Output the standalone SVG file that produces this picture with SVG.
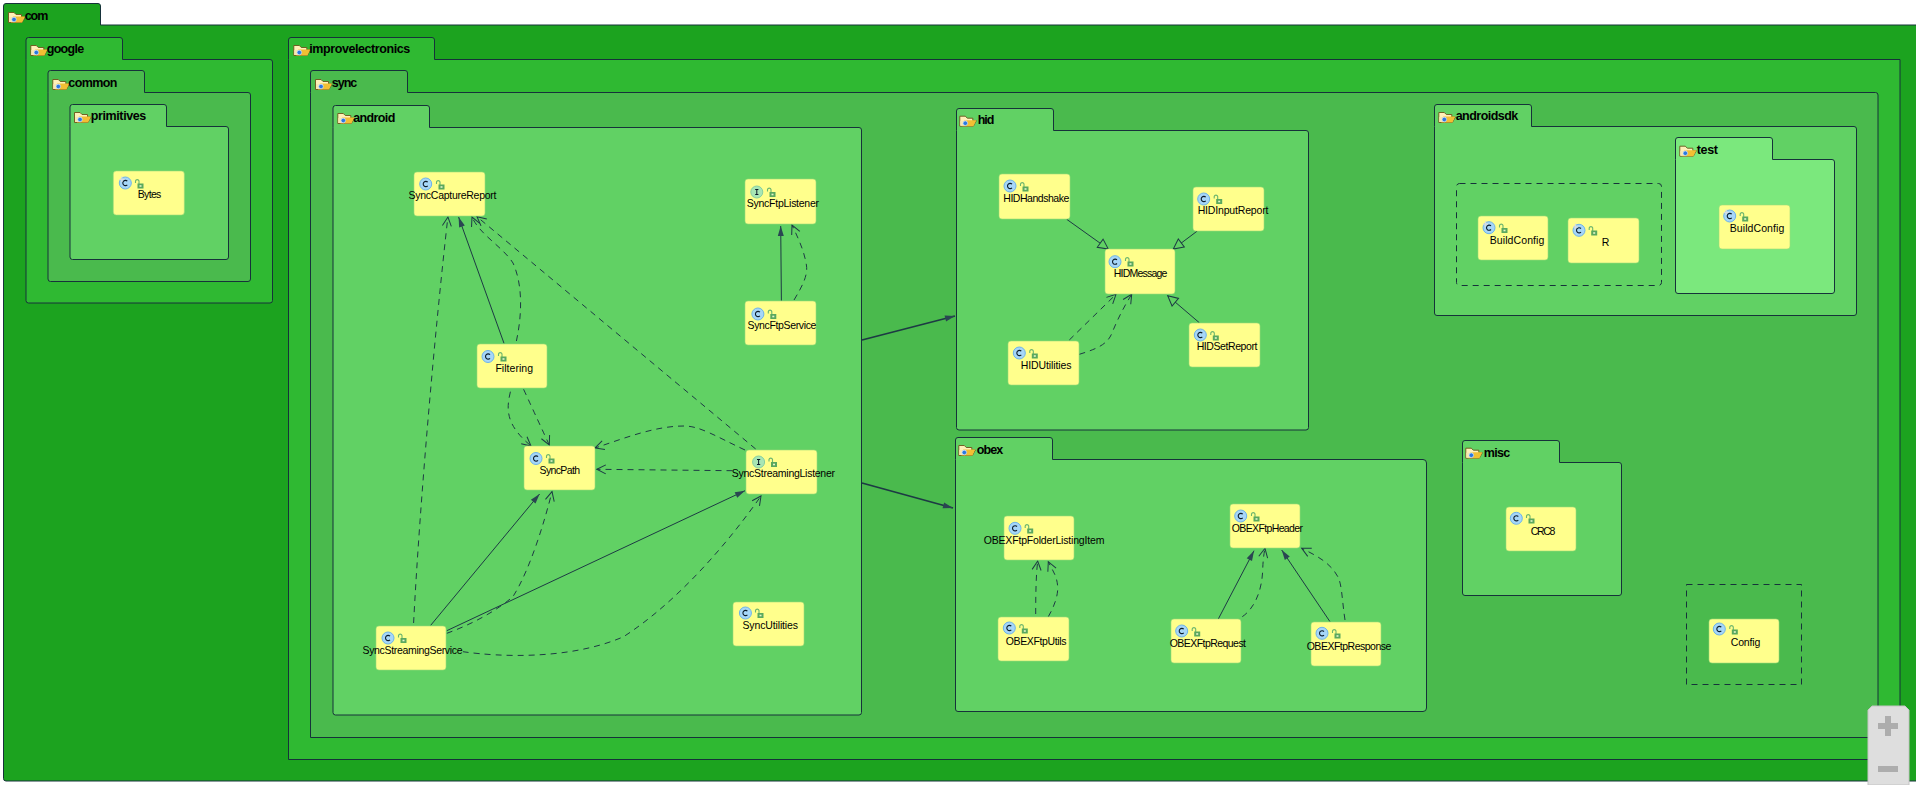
<svg xmlns="http://www.w3.org/2000/svg" width="1916" height="785" viewBox="0 0 1916 785">
<style>
.pk{stroke:#16323a;stroke-width:1}
.l0{fill:#1ca31f}.l1{fill:#2fb932}.l2{fill:#4aba4d}.l3{fill:#61d164}.l4{fill:#7be87d}
.pn{font:bold 12.500px "Liberation Sans",Arial,sans-serif;fill:#000}
.nm{font:10.500px "Liberation Sans",Arial,sans-serif;fill:#000}
.box{fill:#ffff8c;stroke:#9edc78;stroke-width:.6}
.dash{fill:none;stroke:#16323a;stroke-dasharray:6 5}
.e{fill:none;stroke:#1d3a44;stroke-width:1}
.d{stroke-dasharray:6 5;marker-end:url(#open)}
.s{marker-end:url(#solid)}
.t{marker-end:url(#tri)}
.b{stroke-width:1.800;marker-end:url(#solid)}
</style>
<defs>
<marker id="open" markerUnits="userSpaceOnUse" markerWidth="14" markerHeight="14" refX="11" refY="7" orient="auto"><path d="M2 2.500L11 7L2 11.500" fill="none" stroke="#1d3a44"/></marker>
<marker id="solid" markerUnits="userSpaceOnUse" markerWidth="14" markerHeight="14" refX="11" refY="7" orient="auto"><path d="M1 4L11 7L1 10Z" fill="#2a4652"/></marker>
<marker id="tri" markerUnits="userSpaceOnUse" markerWidth="16" markerHeight="16" refX="13" refY="8" orient="auto"><path d="M3 3L13 8L3 13Z" fill="#61d164" stroke="#1d3a44"/></marker>
<g id="folder"><path d="M.5 .5H6L8 2.500H13.500V5H17L14 10.500H.5Z" fill="#fff0b8" stroke="#6a5518" stroke-width=".9"/><path d="M5 4.500H17L14 10.500H3Z" fill="#f2bf33"/><path d="M1 5H8L6 10H1Z" fill="#f8e8b0"/><circle cx="6" cy="7.500" r="2.300" fill="#2a78e0" stroke="#cfe2ff" stroke-width=".7"/></g>
<g id="lock"><path d="M-3.500 -1V-3A1.800 1.800 0 0 1 0 -3V0" fill="none" stroke="#6cb56e" stroke-width="1.100"/><rect x="-1.500" y="-.5" width="6" height="5" fill="#5aa85e"/><rect x=".5" y="1.200" width="2" height="1.600" fill="#e4f4c8"/></g>
<g id="cls"><circle r="6" fill="#a6d6f8" stroke="#6db3ea"/><path d="M2 -1.800A2.600 2.600 0 1 0 2 1.800" fill="none" stroke="#0b1b2a" stroke-width="1.100"/></g>
<g id="ifc"><circle r="6" fill="#a8e6b4" stroke="#86cfa0"/><path d="M-1.600 -2.500H1.600M0 -2.500V2.500M-1.600 2.500H1.600" fill="none" stroke="#0b1b2a"/></g>
<g id="sta"><circle r="6" fill="#a6d6f8" stroke="#6db3ea"/><path d="M2 -1.800A2.600 2.600 0 1 0 2 1.800" fill="none" stroke="#0b1b2a" stroke-width="1.100"/><path d="M-6 -3.500H-1M-3.500 -6.500V-1" stroke="#d8dce0" fill="none" stroke-width="1.200"/></g>
</defs>
<rect width="1916" height="785" fill="#fff"/>

<g id="pkg-com"><path class="pk l0" d="M3.500 25V6Q3.500 3.500 6 3.500H98Q100.500 3.500 100.500 6V25H1930V781H6Q3.500 781 3.500 778.500Z"/><use href="#folder" x="8" y="12"/><text class="pn" x="24.700" y="20" textLength="23.600">com</text></g>
<g id="pkg-google"><path class="pk l1" d="M26 59.500V40Q26 37.500 28.500 37.500H120Q122.500 37.500 122.500 40V59.500H270Q272.500 59.500 272.500 62V300.500Q272.500 303 270 303H28.500Q26 303 26 300.500Z"/><use href="#folder" x="30.300" y="45"/><text class="pn" x="46.700" y="53" textLength="37.600">google</text></g>
<g id="pkg-common"><path class="pk l2" d="M48 92.500V73Q48 70.500 50.500 70.500H142Q144.500 70.500 144.500 73V92.500H248Q250.500 92.500 250.500 95V279Q250.500 281.500 248 281.500H50.500Q48 281.500 48 279Z"/><use href="#folder" x="52.300" y="79"/><text class="pn" x="68.300" y="87.300" textLength="49">common</text></g>
<g id="pkg-primitives"><path class="pk l3" d="M70 126.500V107Q70 104.500 72.500 104.500H164Q166.500 104.500 166.500 107V126.500H226Q228.500 126.500 228.500 129V257Q228.500 259.500 226 259.500H72.500Q70 259.500 70 257Z"/><use href="#folder" x="74" y="112"/><text class="pn" x="90.700" y="120" textLength="55.600">primitives</text></g>
<g id="pkg-improvelectronics"><path class="pk l1" d="M288.500 59.500V40Q288.500 37.500 291 37.500H432Q434.500 37.500 434.500 40V59.500H1900V759.500H288.500Z"/><use href="#folder" x="293.300" y="45"/><text class="pn" x="309.300" y="53" textLength="101">improvelectronics</text></g>
<g id="pkg-sync"><path class="pk l2" d="M310.500 92.500V73Q310.500 70.500 313 70.500H405Q407.500 70.500 407.500 73V92.500H1875.500Q1878 92.500 1878 95V737.500H310.500Z"/><use href="#folder" x="315" y="79"/><text class="pn" x="331.700" y="86.700" textLength="25.600">sync</text></g>
<g id="pkg-android"><path class="pk l3" d="M333 127.500V108Q333 105.500 335.500 105.500H427Q429.500 105.500 429.500 108V127.500H859Q861.500 127.500 861.500 130V712.500Q861.500 715 859 715H335.500Q333 715 333 712.500Z"/><use href="#folder" x="337.300" y="113"/><text class="pn" x="353.300" y="122" textLength="42">android</text></g>
<g id="pkg-hid"><path class="pk l3" d="M956.500 130.500V111Q956.500 108.500 959 108.500H1051Q1053.500 108.500 1053.500 111V130.500H1306Q1308.500 130.500 1308.500 133V427.500Q1308.500 430 1306 430H959Q956.500 430 956.500 427.500Z"/><use href="#folder" x="959.300" y="115.700"/><text class="pn" x="977.700" y="124" textLength="16.600">hid</text></g>
<g id="pkg-obex"><path class="pk l3" d="M955.500 459.500V440Q955.500 437.500 958 437.500H1050Q1052.500 437.500 1052.500 440V459.500H1423Q1426.500 459.500 1426.500 463V708Q1426.500 711.500 1423 711.500H958Q955.500 711.500 955.500 709Z"/><use href="#folder" x="958.300" y="445"/><text class="pn" x="976.700" y="454" textLength="26.600">obex</text></g>
<g id="pkg-androidsdk"><path class="pk l3" d="M1434.500 126.500V107Q1434.500 104.500 1437 104.500H1529Q1531.500 104.500 1531.500 107V126.500H1854Q1856.500 126.500 1856.500 129V313Q1856.500 315.500 1854 315.500H1437Q1434.500 315.500 1434.500 313Z"/><use href="#folder" x="1438.300" y="112"/><text class="pn" x="1455.700" y="120" textLength="62.600">androidsdk</text></g>
<g id="pkg-test"><path class="pk l4" d="M1675.500 159.500V140Q1675.500 137.500 1678 137.500H1770Q1772.500 137.500 1772.500 140V159.500H1832Q1834.500 159.500 1834.500 162V291Q1834.500 293.500 1832 293.500H1678Q1675.500 293.500 1675.500 291Z"/><use href="#folder" x="1679.300" y="145.700"/><text class="pn" x="1696.700" y="153.700" textLength="21.300">test</text></g>
<g id="pkg-misc"><path class="pk l3" d="M1462.500 462.500V443Q1462.500 440.500 1465 440.500H1557Q1559.500 440.500 1559.500 443V462.500H1619Q1621.500 462.500 1621.500 465V593Q1621.500 595.500 1619 595.500H1465Q1462.500 595.500 1462.500 593Z"/><use href="#folder" x="1465.300" y="447.700"/><text class="pn" x="1483.700" y="456.700" textLength="26.600">misc</text></g>
<rect id="default-androidsdk" class="dash" x="1456.500" y="183.500" width="205" height="102" rx="3"/>
<rect id="default-sync" class="dash" x="1686.500" y="584.500" width="115" height="100"/>

<g id="connectors">
<path class="e b" d="M862 340L955 316"/>
<path class="e b" d="M862 483L953 508"/>
<path class="e s" d="M504 343.300L458.600 217"/>
<path class="e d" d="M516.400 341C522 315 523 285 513 263C503 247 480 235 472 217"/>
<path class="e d" d="M755.700 449L477 216.700"/>
<path class="e d" d="M413.600 623C420 500 435 330 447.900 217"/>
<path class="e s" d="M781.400 300.700L780.700 226"/>
<path class="e d" d="M794 300C803 285 808 275 806.400 265C804 250 798 238 792 225"/>
<path class="e d" d="M510.400 391.700C506 410 506 425 531 446"/>
<path class="e d" d="M523.600 389.300Q540 425 549.300 445"/>
<path class="e d" d="M745 450C715 436 700 426 684 426C655 426 625 438 595 448"/>
<path class="e d" d="M732.500 470.700L596.800 469.300"/>
<path class="e s" d="M430.700 625.300L539.600 494"/>
<path class="e d" d="M446.800 633.300C470 625 495 612 512.900 596.700C530 570 545 520 552 491.700"/>
<path class="e s" d="M446.800 630.700L745 490.700"/>
<path class="e d" d="M462.900 651.700C500 657 570 660 623.600 636.700C680 600 730 540 761 496"/>
<path class="e t" d="M1066.700 219.300L1108.300 249"/>
<path class="e t" d="M1197.300 231L1173.300 249"/>
<path class="e t" d="M1199.300 322.700L1167.700 295.700"/>
<path class="e d" d="M1069.300 340L1116 294.300"/>
<path class="e d" d="M1079.300 354.300C1100 348 1108 343 1112 333C1118 318 1125 305 1131.700 294.300"/>
<path class="e d" d="M1035.700 614C1035.700 595 1036 575 1037.700 561"/>
<path class="e d" d="M1048.300 616.700C1055 605 1058 595 1057.700 587C1057 575 1052 570 1048.300 561.700"/>
<path class="e s" d="M1218.300 619L1254 550.700"/>
<path class="e d" d="M1242.300 616.700C1255 608 1262 590 1262.700 570Q1263 558 1265 548.300"/>
<path class="e s" d="M1330 621.700L1281.700 550"/>
<path class="e d" d="M1345 620C1342 600 1342 585 1338 577C1330 562 1315 555 1301.700 548.300"/>
</g>

<g id="n-Bytes"><rect class="box" x="113.300" y="171" width="71" height="44" rx="3"/><use href="#sta" x="125.300" y="183"/><use href="#lock" x="139" y="184"/><text class="nm" x="137.700" y="198" textLength="23.600">Bytes</text></g>
<g id="n-SyncCaptureReport"><rect class="box" x="414" y="172" width="71" height="44" rx="3"/><use href="#cls" x="425.700" y="184"/><use href="#lock" x="440" y="185"/><text class="nm" x="408.600" y="199" textLength="87.800">SyncCaptureReport</text></g>
<g id="n-SyncFtpListener"><rect class="box" x="745" y="179" width="71" height="45" rx="3"/><use href="#ifc" x="756.800" y="192"/><use href="#lock" x="771" y="192.500"/><text class="nm" x="746.800" y="207" textLength="72.200">SyncFtpListener</text></g>
<g id="n-SyncFtpService"><rect class="box" x="745" y="301" width="71" height="44" rx="3"/><use href="#cls" x="757.900" y="314"/><use href="#lock" x="771.800" y="314.500"/><text class="nm" x="747.500" y="329" textLength="68.900">SyncFtpService</text></g>
<g id="n-Filtering"><rect class="box" x="477" y="344" width="70" height="44" rx="3"/><use href="#cls" x="488" y="356.500"/><use href="#lock" x="502" y="357"/><text class="nm" x="495.400" y="372" textLength="37.600">Filtering</text></g>
<g id="n-SyncPath"><rect class="box" x="524" y="446" width="71" height="44" rx="3"/><use href="#cls" x="536" y="458.500"/><use href="#lock" x="550" y="459"/><text class="nm" x="539.600" y="474" textLength="40.400">SyncPath</text></g>
<g id="n-SyncStreamingListener"><rect class="box" x="746" y="450" width="71" height="44" rx="3"/><use href="#ifc" x="758.600" y="462"/><use href="#lock" x="772.500" y="462.500"/><text class="nm" x="731.800" y="477" textLength="103.200">SyncStreamingListener</text></g>
<g id="n-SyncStreamingService"><rect class="box" x="376" y="626" width="70" height="44" rx="3"/><use href="#cls" x="388" y="638"/><use href="#lock" x="402" y="638.500"/><text class="nm" x="362.500" y="654" textLength="100">SyncStreamingService</text></g>
<g id="n-SyncUtilities"><rect class="box" x="733" y="602" width="71" height="44" rx="3"/><use href="#cls" x="745.400" y="613"/><use href="#lock" x="759" y="613.500"/><text class="nm" x="742.500" y="629" textLength="55.500">SyncUtilities</text></g>
<g id="n-HIDHandshake"><rect class="box" x="999" y="174" width="71" height="45" rx="3"/><use href="#cls" x="1010" y="186"/><use href="#lock" x="1024" y="187"/><text class="nm" x="1003.300" y="201.700" textLength="66">HIDHandshake</text></g>
<g id="n-HIDInputReport"><rect class="box" x="1193" y="187" width="71" height="44" rx="3"/><use href="#cls" x="1203.700" y="199"/><use href="#lock" x="1217.700" y="199.500"/><text class="nm" x="1197.700" y="214" textLength="70.700">HIDInputReport</text></g>
<g id="n-HIDMessage"><rect class="box" x="1105" y="249" width="70" height="45" rx="3"/><use href="#cls" x="1115" y="261.700"/><use href="#lock" x="1129" y="262"/><text class="nm" x="1113.700" y="277" textLength="53.700">HIDMessage</text></g>
<g id="n-HIDUtilities"><rect class="box" x="1008" y="341" width="71" height="44" rx="3"/><use href="#cls" x="1019.300" y="353"/><use href="#lock" x="1033.300" y="354"/><text class="nm" x="1020.700" y="368.700" textLength="50.700">HIDUtilities</text></g>
<g id="n-HIDSetReport"><rect class="box" x="1189" y="323" width="71" height="44" rx="3"/><use href="#cls" x="1200.300" y="335"/><use href="#lock" x="1214.300" y="336"/><text class="nm" x="1196.700" y="350" textLength="60.700">HIDSetReport</text></g>
<g id="n-OBEXFtpFolderListingItem"><rect class="box" x="1004" y="516" width="70" height="44" rx="3"/><use href="#cls" x="1015" y="528.300"/><use href="#lock" x="1028.700" y="529"/><text class="nm" x="983.700" y="544" textLength="120.700">OBEXFtpFolderListingItem</text></g>
<g id="n-OBEXFtpHeader"><rect class="box" x="1230" y="504" width="70" height="44" rx="3"/><use href="#cls" x="1240.700" y="516"/><use href="#lock" x="1255" y="517"/><text class="nm" x="1231.700" y="531.700" textLength="71.300">OBEXFtpHeader</text></g>
<g id="n-OBEXFtpUtils"><rect class="box" x="998" y="617" width="71" height="44" rx="3"/><use href="#cls" x="1009.300" y="628"/><use href="#lock" x="1023.300" y="629"/><text class="nm" x="1005.700" y="645" textLength="60.700">OBEXFtpUtils</text></g>
<g id="n-OBEXFtpRequest"><rect class="box" x="1171" y="619" width="70" height="44" rx="3"/><use href="#cls" x="1181.700" y="631"/><use href="#lock" x="1195.700" y="632"/><text class="nm" x="1169.700" y="646.700" textLength="76.300">OBEXFtpRequest</text></g>
<g id="n-OBEXFtpResponse"><rect class="box" x="1311" y="622" width="70" height="44" rx="3"/><use href="#cls" x="1322" y="633.300"/><use href="#lock" x="1336" y="634"/><text class="nm" x="1306.700" y="650" textLength="84.700">OBEXFtpResponse</text></g>
<g id="n-BuildConfig"><rect class="box" x="1478" y="216" width="70" height="44" rx="3"/><use href="#sta" x="1489" y="227.700"/><use href="#lock" x="1503" y="228.500"/><text class="nm" x="1489.700" y="244.300" textLength="54.700">BuildConfig</text></g>
<g id="n-R"><rect class="box" x="1568" y="218" width="71" height="45" rx="3"/><use href="#sta" x="1579" y="230.300"/><use href="#lock" x="1592.700" y="231"/><text class="nm" x="1601.800" y="245.700">R</text></g>
<g id="n-test-BuildConfig"><rect class="box" x="1719" y="205" width="71" height="44" rx="3"/><use href="#sta" x="1729.700" y="216"/><use href="#lock" x="1743.700" y="217"/><text class="nm" x="1729.700" y="232" textLength="54.600">BuildConfig</text></g>
<g id="n-CRC8"><rect class="box" x="1506" y="507" width="70" height="44" rx="3"/><use href="#cls" x="1516.300" y="518.300"/><use href="#lock" x="1530" y="519"/><text class="nm" x="1530.700" y="534.700" textLength="24.600">CRC8</text></g>
<g id="n-Config"><rect class="box" x="1709" y="619" width="70" height="44" rx="3"/><use href="#cls" x="1719.300" y="629"/><use href="#lock" x="1733.300" y="630"/><text class="nm" x="1730.700" y="646" textLength="29.600">Config</text></g>

<g id="zoom-control"><path d="M1872 706H1905L1909 710V785H1868V710Z" fill="#dedede" stroke="#c4c4c4"/><path d="M1878 723H1885V716H1891V723H1898V729H1891V736H1885V729H1878Z" fill="#adadad"/><rect x="1878" y="766" width="20" height="6" fill="#adadad"/></g>
</svg>
